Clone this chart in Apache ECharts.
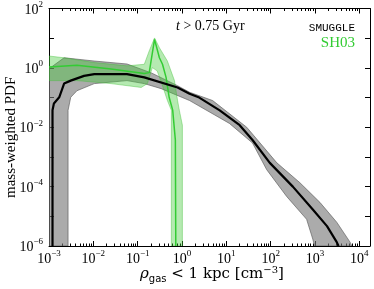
<!DOCTYPE html>
<html><head><meta charset="utf-8">
<script src="https://cdn.jsdelivr.net/npm/echarts@6/dist/echarts.min.js"></script>
<style>html,body{margin:0;padding:0;background:#fff}#c{width:374px;height:289px}</style>
</head><body><div id="c"></div>
<script>
// ---- SMUGGLE (black median + grey band) ----
const smuggleRho = [0.00120, 0.00120, 0.00129, 0.00170, 0.00219, 0.00309, 0.00617, 0.0105, 0.0575, 0.141, 0.794, 1.48, 2.45, 7.08, 20.0, 38.9, 95.5, 316, 891, 1862, 3090, 3388];
const smuggleMed = [1e-6, 0.0372, 0.0631, 0.102, 0.295, 0.372, 0.537, 0.617, 0.617, 0.479, 0.219, 0.135, 0.1, 0.0372, 0.0117, 0.00372, 6.31e-4, 1e-4, 1.70e-5, 4.68e-6, 1.35e-6, 1e-6];
const smuggleUpRho = [0.001, 0.00219, 0.0105, 0.0575, 0.204, 0.794, 1.48, 4.90, 28.8, 138, 457, 1288, 3090, 6166, 6761];
const smuggleUp = [0.933, 2.19, 1.70, 1.35, 0.676, 0.251, 0.151, 0.0794, 0.01, 6.31e-4, 1.35e-4, 2.95e-5, 6.31e-6, 1.35e-6, 1e-6];
const smuggleLoRho = [0.001, 0.00269, 0.00269, 0.00309, 0.00427, 0.0105, 0.0575, 0.141, 0.339, 1.48, 11.7, 38.9, 81.3, 229, 646, 891, 977];
const smuggleLo = [1e-6, 1e-6, 0.0372, 0.102, 0.170, 0.295, 0.372, 0.295, 0.2, 0.0794, 0.0135, 0.00295, 3.72e-4, 4.68e-5, 7.94e-6, 1.70e-6, 1e-6];

// ---- SH03 (green median + green band) ----
const sh03Rho = [0.001, 0.00427, 0.0251, 0.141, 0.182, 0.240, 0.309, 0.363, 0.437, 0.513, 0.617, 0.708, 0.724];
const sh03Med = [1.07, 1.23, 0.912, 0.646, 0.692, 9.12, 2.19, 1.32, 0.479, 0.102, 0.0372, 0.00372, 1e-6];
const sh03UpRho = [0.001, 0.00219, 0.0105, 0.0575, 0.141, 0.182, 0.240, 0.309, 0.468, 0.676, 0.794, 0.871, 1.02, 1.02];
const sh03Up = [2.51, 2.19, 1.51, 1.17, 1.32, 3.72, 10.2, 4.79, 1.70, 0.372, 0.0794, 0.0372, 0.0117, 1e-6];
const sh03LoRho = [0.001, 0.00427, 0.0251, 0.120, 0.166, 0.214, 0.275, 0.363, 0.468, 0.575, 0.575];
const sh03Lo = [0.372, 0.372, 0.295, 0.219, 0.295, 1.02, 0.794, 0.251, 0.0794, 0.0372, 1e-6];

// ---- axes / tick labels ----
const xMin = 1e-3, xMax = 17378;
const yMin = 1e-6, yMax = 100;
const xTickExp = [-3, -2, -1, 0, 1, 2, 3, 4];
const yTickExp = [-6, -5, -4, -3, -2, -1, 0, 1, 2];
const yLabelExp = [-6, -4, -2, 0, 2];
const labels = { title: "t", titleRest: " > 0.75 Gyr", sim1: "SMUGGLE", sim2: "SH03", yName: "mass-weighted PDF" };

const LX0 = Math.log10(xMin), LX1 = Math.log10(xMax), LY0 = Math.log10(yMin), LY1 = Math.log10(yMax);
const minorX = [];
for (let e = -3; e <= 4; e++) for (let m = 2; m <= 9; m++) { const v = e + Math.log10(m); if (v < LX1) minorX.push(v); }

const SERIF = 'Liberation Serif';
const GREEN = '#33cc33';
const tickRich = {
  b: { fontFamily: SERIF, fontSize: 14, color: '#000', lineHeight: 17, verticalAlign: 'bottom' },
  s: { fontFamily: SERIF, fontSize: 9, color: '#000', lineHeight: 9, verticalAlign: 'top' }
};
const expFmt = v => { const e = Math.round(v); return '{b|10}{s|' + (e < 0 ? '\u2212' + (-e) : e) + '}'; };

const pairs = (xs, ys) => xs.map((x, i) => [x, ys[i]]);

function band(xsU, ysU, xsL, ysL, fill, stroke, z) {
  return {
    type: 'custom', xAxisIndex: 0, yAxisIndex: 0, z: z, silent: true, clip: true,
    data: [[xsU[0], ysU[0]]],
    renderItem: (params, api) => {
      const pts = [];
      for (let i = 0; i < xsU.length; i++) pts.push(api.coord([xsU[i], ysU[i]]));
      for (let i = xsL.length - 1; i >= 0; i--) pts.push(api.coord([xsL[i], ysL[i]]));
      return { type: 'polygon', shape: { points: pts }, style: { fill: fill, stroke: stroke, lineWidth: 0.8 } };
    }
  };
}

function decoX(pos, ticks, len, showLine, showLabel) {
  return {
    type: 'value', min: LX0, max: LX1, position: pos,
    axisLine: { show: showLine, onZero: false, lineStyle: { color: '#000', width: 1 } },
    axisTick: { show: true, inside: true, length: len, customValues: ticks, lineStyle: { color: '#000', width: 1 } },
    axisLabel: showLabel ? { show: true, customValues: xTickExp, formatter: expFmt, rich: tickRich, margin: 3 } : { show: false },
    splitLine: { show: false }
  };
}
function decoY(pos, showLabel) {
  return {
    type: 'value', min: LY0, max: LY1, position: pos,
    axisLine: { show: true, onZero: false, lineStyle: { color: '#000', width: 1 } },
    axisTick: { show: true, inside: true, length: 5, customValues: yTickExp, lineStyle: { color: '#000', width: 1 } },
    axisLabel: showLabel ? { show: true, customValues: yLabelExp, formatter: expFmt, rich: tickRich, margin: 6 } : { show: false },
    splitLine: { show: false }
  };
}

const chart = echarts.init(document.getElementById('c'));
chart.setOption({
  animation: false,
  backgroundColor: '#fff',
  grid: { left: 49, right: 4, top: 7, bottom: 43 },
  xAxis: [
    { type: 'log', min: xMin, max: xMax, show: false },
    decoX('bottom', xTickExp, 5, true, true),
    decoX('bottom', minorX, 2.5, false, false),
    decoX('top', xTickExp, 5, true, false),
    decoX('top', minorX, 2.5, false, false)
  ],
  yAxis: [
    { type: 'log', min: yMin, max: yMax, show: false },
    decoY('left', true),
    decoY('right', false)
  ],
  series: [
    band(smuggleUpRho, smuggleUp, smuggleLoRho, smuggleLo, 'rgba(120,120,120,0.62)', 'rgba(90,90,90,0.8)', 1),
    band(sh03UpRho, sh03Up, sh03LoRho, sh03Lo, 'rgba(60,200,50,0.38)', 'rgba(60,190,50,0.5)', 2),
    { type: 'line', xAxisIndex: 0, yAxisIndex: 0, data: pairs(sh03Rho, sh03Med), showSymbol: false, z: 3,
      lineStyle: { color: GREEN, width: 1.5 }, silent: true },
    { type: 'line', xAxisIndex: 0, yAxisIndex: 0, data: pairs(smuggleRho, smuggleMed), showSymbol: false, z: 4,
      lineStyle: { color: '#000', width: 2.2 }, silent: true }
  ],
  graphic: [
    { type: 'text', left: 176, top: 19, z: 10, style: { text: '{i|' + labels.title + '}{n|' + labels.titleRest + '}',
      rich: { i: { fontFamily: SERIF, fontStyle: 'italic', fontSize: 14, fill: '#000' }, n: { fontFamily: SERIF, fontSize: 14, fill: '#000' } } } },
    { type: 'text', right: 19, top: 23, z: 10, style: { text: labels.sim1, fontFamily: 'Liberation Mono', fontSize: 11, fill: '#000' } },
    { type: 'text', right: 19, top: 36, z: 10, style: { text: labels.sim2, fontFamily: SERIF, fontSize: 15, fill: GREEN } },
    { type: 'text', x: 4, y: 198, rotation: Math.PI / 2, z: 10, style: { text: labels.yName, fontFamily: SERIF, fontSize: 15, fill: '#000' } },
    { type: 'text', left: 140, top: 265, z: 10, style: {
      text: '{i|\u03c1}{sub|gas}{n| < 1 kpc [cm}{sup|\u22123}{n|]}',
      rich: {
        i: { fontFamily: 'DejaVu Serif', fontStyle: 'italic', fontSize: 15, fill: '#000', lineHeight: 19, verticalAlign: 'middle' },
        n: { fontFamily: 'DejaVu Serif', fontSize: 15, fill: '#000', lineHeight: 19, verticalAlign: 'middle' },
        sub: { fontFamily: 'DejaVu Sans', fontSize: 10, fill: '#000', lineHeight: 10, verticalAlign: 'bottom' },
        sup: { fontFamily: 'DejaVu Serif', fontSize: 10, fill: '#000', lineHeight: 10, verticalAlign: 'top' }
      } } }
  ]
});
</script></body></html>
